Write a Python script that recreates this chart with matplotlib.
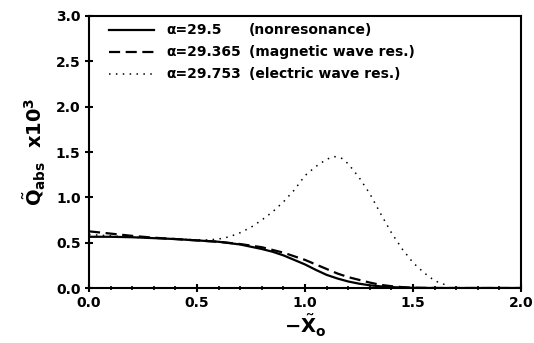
import numpy as np
import matplotlib
matplotlib.use("Agg")
import matplotlib.pyplot as plt
from matplotlib.ticker import MultipleLocator, FormatStrFormatter

plt.rcParams['font.family'] = ['DejaVu Sans']
plt.rcParams['font.weight'] = 'bold'
plt.rcParams['mathtext.fontset'] = 'dejavusans'
plt.rcParams['mathtext.default'] = 'bf'

# Data
x_solid = [0.0, 0.1, 0.2, 0.3, 0.4, 0.5, 0.6, 0.7, 0.8, 0.85, 0.9, 0.95, 1.0, 1.05,
           1.1, 1.15, 1.2, 1.25, 1.3, 1.35, 1.4, 1.45, 1.5, 1.6, 1.8, 2.0]
y_solid = [0.565, 0.565, 0.56, 0.55, 0.54, 0.525, 0.51, 0.48, 0.43, 0.40, 0.36, 0.31,
           0.26, 0.20, 0.145, 0.105, 0.072, 0.048, 0.03, 0.018, 0.01, 0.005, 0.002, 0.0, 0.0, 0.0]

x_dash = [0.0, 0.1, 0.2, 0.3, 0.4, 0.5, 0.6, 0.7, 0.8, 0.85, 0.9, 0.95, 1.0, 1.05,
          1.1, 1.15, 1.2, 1.25, 1.3, 1.35, 1.4, 1.45, 1.5, 1.6, 1.8, 2.0]
y_dash = [0.625, 0.60, 0.575, 0.555, 0.54, 0.525, 0.51, 0.485, 0.45, 0.42, 0.39, 0.35,
          0.31, 0.26, 0.21, 0.16, 0.12, 0.09, 0.06, 0.035, 0.02, 0.01, 0.003, 0.0, 0.0, 0.0]

x_dot = [0.0, 0.1, 0.2, 0.3, 0.4, 0.5, 0.55, 0.6, 0.65, 0.7, 0.75, 0.8, 0.85, 0.9, 0.95,
         1.0, 1.05, 1.1, 1.135, 1.17, 1.2, 1.25, 1.3, 1.35, 1.4, 1.45, 1.5, 1.55, 1.6, 1.65]
y_dot = [0.59, 0.575, 0.56, 0.55, 0.54, 0.53, 0.53, 0.54, 0.565, 0.61, 0.67, 0.75, 0.84,
         0.95, 1.08, 1.24, 1.34, 1.42, 1.45, 1.43, 1.37, 1.22, 1.04, 0.82, 0.61, 0.43,
         0.28, 0.17, 0.08, 0.035]

labels_alpha = ['α=29.5', 'α=29.365', 'α=29.753']
labels_desc = ['(nonresonance)', '(magnetic wave res.)', '(electric wave res.)']

fig = plt.figure(figsize=(5.34, 3.43), dpi=100)
ax = fig.add_axes([0.1667, 0.1603, 0.8090, 0.7931])

styles = [dict(ls='-', lw=1.6), dict(ls=(0, (5, 2.5)), lw=1.6), dict(ls=(0, (1, 3.5)), lw=1.1)]
series = [(x_solid, y_solid), (x_dash, y_dash), (x_dot, y_dot)]
for (xs, ys), st in zip(series, styles):
    ax.plot(xs, ys, color='black', **st)

# manual legend
rows = [0.949, 0.868, 0.787]
for r, st, la, ld in zip(rows, styles, labels_alpha, labels_desc):
    ax.plot([0.046, 0.15], [r, r], transform=ax.transAxes, color='black', **st)
    ax.text(0.178, r, la, transform=ax.transAxes, va='center', ha='left',
            fontsize=10, fontweight='bold')
    ax.text(0.37, r, ld, transform=ax.transAxes, va='center', ha='left',
            fontsize=10, fontweight='bold')

ax.set_xlim(0, 2.0)
ax.set_ylim(0, 3.0)
ax.xaxis.set_major_locator(MultipleLocator(0.5))
ax.xaxis.set_minor_locator(MultipleLocator(0.1))
ax.yaxis.set_major_locator(MultipleLocator(0.5))
ax.xaxis.set_major_formatter(FormatStrFormatter('%.1f'))
ax.yaxis.set_major_formatter(FormatStrFormatter('%.1f'))
ax.tick_params(axis='both', which='major', direction='inout', length=6, width=1.5,
               labelsize=10, pad=3)
ax.tick_params(axis='x', which='minor', direction='inout', length=3, width=1.2)
for lab in ax.get_xticklabels() + ax.get_yticklabels():
    lab.set_fontweight('bold')
for s in ax.spines.values():
    s.set_linewidth(1.5)

ax.set_xlabel(r'$-\tilde{X}_o$', fontsize=14, labelpad=2)
ax.set_ylabel(r'$\tilde{Q}_{abs}$  x10$^3$', fontsize=14, fontweight='bold', labelpad=6)

fig.savefig('out.png', dpi=100)
